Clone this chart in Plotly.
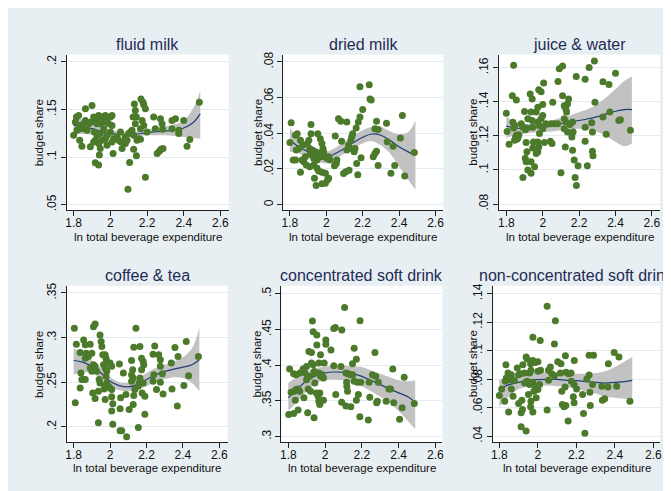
import plotly.graph_objects as go

# ---------------- data ----------------
x_ticks = [1.8, 2.0, 2.2, 2.4, 2.6]
x_tick_text = ["1.8", "2", "2.2", "2.4", "2.6"]

fit_x = [1.80, 1.85, 1.90, 1.95, 2.00, 2.05, 2.10, 2.15, 2.20, 2.25, 2.30, 2.35, 2.40, 2.45, 2.49]

# fluid milk
fluid_milk_pts = [
    (1.800, .1229), (1.815, .1420), (1.827, .1437), (1.809, .1368), (1.836, .1333), (1.855, .1351), (1.864, .1507),
    (1.900, .1542), (1.833, .1177), (1.845, .1115), (1.818, .1281), (1.873, .1281), (1.882, .1351), (1.895, .1368),
    (1.909, .1420), (1.913, .1264), (1.927, .1403), (1.936, .1437), (1.945, .1351), (1.955, .1420), (1.973, .1437),
    (1.982, .1403), (2.000, .1420), (2.009, .1437), (1.991, .1351), (2.009, .1333), (1.964, .1299), (1.945, .1247),
    (1.927, .1229), (1.918, .1177), (1.909, .1160), (1.891, .1108), (1.936, .1142), (1.955, .1177), (1.973, .1194),
    (1.982, .1125), (1.945, .1090), (1.940, .1021), (1.918, .0941), (1.936, .0917), (2.015, .1038), (2.018, .1194),
    (2.009, .1160), (1.982, .1229), (2.000, .1264), (2.036, .1212), (2.055, .1264), (2.064, .1090), (2.058, .1160),
    (2.045, .1177), (2.082, .1212), (2.091, .1177), (2.082, .1142), (2.100, .1247), (2.109, .1264), (2.118, .1281),
    (2.127, .1229), (2.127, .1083), (2.142, .1014), (2.105, .0944), (2.096, .0663), (2.136, .1351), (2.142, .1420),
    (2.167, .1611), (2.178, .1576), (2.182, .1549), (2.131, .1559), (2.136, .1490), (2.124, .1420), (2.173, .1385),
    (2.191, .1507), (2.182, .1333), (2.164, .1299), (2.155, .1194), (2.145, .1177), (2.164, .1187), (2.191, .0788),
    (2.200, .1264), (2.236, .1420), (2.245, .1299), (2.273, .1403), (2.282, .1351), (2.285, .1292), (2.336, .1299),
    (2.373, .1247), (2.373, .1281), (2.336, .1385), (2.355, .1403), (2.400, .1385), (2.255, .1038), (2.267, .1062),
    (2.276, .1083), (2.287, .1090), (2.418, .1115), (2.433, .1184), (2.485, .1576), (1.927, .1351), (1.964, .1368),
    (1.845, .1299), (1.864, .1385),
]
fluid_milk_fit = [.1333, .1319, .1299, .1271, .1250, .1240, .1236, .1243, .1257, .1267, .1274, .1285, .1306, .1361, .1455]
fluid_milk_lo = [.1247, .1243, .1236, .1226, .1215, .1212, .1212, .1219, .1229, .1229, .1229, .1222, .1212, .1201, .1194]
fluid_milk_hi = [.1420, .1392, .1358, .1316, .1285, .1271, .1264, .1271, .1288, .1306, .1323, .1344, .1385, .1507, .1698]
fluid_milk_yticks = [0.05, 0.10, 0.15, 0.20]
fluid_milk_ylabels = [".05", ".1", ".15", ".2"]

# dried milk
dried_milk_pts = [
    (1.800, .0348), (1.807, .0459), (1.831, .0389), (1.835, .0306), (1.849, .0315), (1.840, .0398), (1.858, .0361),
    (1.818, .0250), (1.831, .0250), (1.867, .0250), (1.858, .0181), (1.876, .0241), (1.885, .0269), (1.895, .0343),
    (1.904, .0361), (1.916, .0398), (1.916, .0450), (1.909, .0315), (1.913, .0287), (1.922, .0278), (1.931, .0259),
    (1.940, .0296), (1.949, .0250), (1.953, .0398), (1.967, .0369), (1.976, .0343), (1.982, .0315), (1.985, .0296),
    (1.964, .0278), (1.976, .0269), (1.995, .0269), (2.004, .0259), (2.013, .0269), (1.931, .0222), (1.909, .0213),
    (1.949, .0204), (1.958, .0189), (1.976, .0181), (1.995, .0176), (1.935, .0148), (1.944, .0107), (1.976, .0117),
    (1.995, .0120), (2.007, .0139), (2.013, .0148), (2.049, .0385), (2.055, .0231), (2.045, .0218), (2.058, .0250),
    (2.067, .0481), (2.080, .0468), (2.113, .0463), (2.084, .0356), (2.095, .0174), (2.107, .0185), (2.125, .0193),
    (2.113, .0306), (2.122, .0333), (2.131, .0315), (2.135, .0361), (2.140, .0380), (2.145, .0398), (2.153, .0296),
    (2.158, .0315), (2.164, .0430), (2.176, .0463), (2.167, .0231), (2.173, .0167), (2.185, .0491), (2.200, .0533),
    (2.191, .0263), (2.185, .0661), (2.236, .0672), (2.240, .0593), (2.247, .0587), (2.267, .0426), (2.276, .0467),
    (2.285, .0422), (2.258, .0269), (2.267, .0287), (2.276, .0300), (2.285, .0219), (2.331, .0457), (2.335, .0352),
    (2.367, .0328), (2.376, .0219), (2.355, .0176), (2.418, .0500), (2.407, .0374), (2.431, .0161), (2.484, .0293),
    (1.870, .0335), (1.925, .0305), (1.960, .0290), (2.020, .0250), (1.890, .0222),
]
dried_milk_fit = [.0361, .0324, .0296, .0274, .0263, .0287, .0315, .0348, .0378, .0396, .0389, .0361, .0324, .0296, .0278]
dried_milk_lo = [.0296, .0287, .0263, .0244, .0231, .0256, .0287, .0315, .0343, .0356, .0333, .0287, .0213, .0139, .0083]
dried_milk_hi = [.0430, .0367, .0330, .0306, .0296, .0319, .0352, .0385, .0417, .0435, .0435, .0411, .0393, .0407, .0472]
dried_milk_yticks = [0.0, 0.02, 0.04, 0.06, 0.08]
dried_milk_ylabels = ["0", ".02", ".04", ".06", ".08"]

# juice & water
juice_water_pts = [
    (1.840, .1614), (1.800, .1333), (1.804, .1226), (1.815, .1151), (1.833, .1435), (1.855, .1410), (1.836, .1280),
    (1.845, .1261), (1.840, .1246), (1.851, .1193), (1.858, .1180), (1.864, .1188), (1.845, .1174), (1.855, .1203),
    (1.869, .1207), (1.882, .1271), (1.891, .1251), (1.900, .1343), (1.904, .1236), (1.913, .1246), (1.918, .1300),
    (1.909, .1161), (1.913, .1106), (1.904, .1068), (1.909, .1048), (1.918, .1000), (1.936, .1048), (1.936, .0980),
    (1.891, .0955), (1.931, .1445), (1.942, .1416), (1.936, .1339), (1.942, .1290), (1.945, .1251), (1.949, .1164),
    (1.945, .1129), (1.955, .1019), (1.964, .1339), (1.973, .1368), (1.978, .1470), (1.991, .1459), (2.005, .1509),
    (2.000, .1383), (1.973, .1281), (1.982, .1261), (1.991, .1300), (2.000, .1319), (1.973, .1164), (1.978, .1135),
    (1.973, .1106), (1.964, .1097), (1.982, .1213), (2.009, .1161), (2.000, .1242), (2.018, .1271), (2.042, .1168),
    (2.051, .1155), (2.055, .1397), (2.045, .1271), (2.064, .1271), (2.082, .1271), (2.084, .1519), (2.091, .1594),
    (2.109, .1610), (2.100, .0984), (2.109, .1435), (2.118, .1377), (2.127, .1358), (2.136, .1387), (2.142, .1416),
    (2.131, .1339), (2.118, .1300), (2.127, .1281), (2.118, .1242), (2.136, .1222), (2.124, .1135), (2.149, .1267),
    (2.164, .1281), (2.167, .1222), (2.160, .1193), (2.164, .1116), (2.173, .1058), (2.178, .0955), (2.185, .0909),
    (2.194, .1025), (2.184, .1548), (2.233, .1532), (2.255, .1600), (2.284, .1639), (2.233, .1251), (2.233, .1168),
    (2.245, .1025), (2.269, .1277), (2.273, .1222), (2.273, .1110), (2.276, .1083), (2.287, .1397), (2.331, .1517),
    (2.364, .1501), (2.400, .1567), (2.331, .1310), (2.349, .1209), (2.369, .1339), (2.418, .1290), (2.427, .1294),
    (2.482, .1232),
]
juice_water_fit = [.1257, .1246, .1242, .1246, .1250, .1257, .1271, .1281, .1290, .1300, .1313, .1329, .1344, .1354, .1354]
juice_water_lo = [.1188, .1203, .1213, .1219, .1222, .1226, .1232, .1238, .1242, .1236, .1222, .1199, .1164, .1139, .1155]
juice_water_hi = [.1310, .1284, .1271, .1271, .1277, .1290, .1306, .1319, .1339, .1358, .1387, .1426, .1474, .1523, .1548]
juice_water_yticks = [0.08, 0.10, 0.12, 0.14, 0.16]
juice_water_ylabels = [".08", ".1", ".12", ".14", ".16"]

# coffee & tea
coffee_tea_pts = [
    (1.804, .3104), (1.815, .2926), (1.809, .2270), (1.836, .2833), (1.855, .2974), (1.864, .2919), (1.840, .2604),
    (1.845, .2530), (1.836, .2437), (1.855, .2530), (1.864, .2530), (1.864, .2770), (1.873, .2807), (1.882, .2789),
    (1.869, .2826), (1.891, .2926), (1.900, .2826), (1.909, .3122), (1.918, .3152), (1.891, .2659), (1.900, .2622),
    (1.909, .2696), (1.918, .2678), (1.927, .2622), (1.905, .2381), (1.918, .2319), (1.936, .2400), (1.945, .3030),
    (1.951, .2956), (1.955, .2900), (1.940, .2530), (1.945, .2493), (1.936, .2048), (1.960, .2807), (1.973, .2807),
    (1.978, .2770), (1.982, .2733), (1.964, .2696), (1.973, .2659), (1.982, .2622), (1.978, .2567), (1.973, .2456),
    (1.991, .2456), (2.000, .2437), (1.967, .2426), (2.000, .2715), (2.009, .2678), (2.009, .2419), (1.982, .2493),
    (1.973, .2307), (2.009, .2337), (2.015, .2259), (2.009, .2178), (2.015, .2030), (2.051, .2704), (2.073, .2604),
    (2.058, .2326), (2.055, .2204), (2.055, .1956), (2.064, .1956), (2.091, .1889), (2.087, .2363), (2.105, .2196),
    (2.118, .2744), (2.124, .2641), (2.118, .2585), (2.127, .2548), (2.118, .2511), (2.130, .2893), (2.142, .3104),
    (2.130, .2352), (2.136, .2419), (2.127, .2252), (2.155, .1993), (2.164, .2900), (2.173, .2770), (2.182, .2733),
    (2.185, .2696), (2.173, .2641), (2.164, .2548), (2.160, .2493), (2.155, .2456), (2.182, .2493), (2.176, .2381),
    (2.191, .2344), (2.191, .2141), (2.236, .2815), (2.245, .2907), (2.240, .2585), (2.236, .2511), (2.255, .2419),
    (2.267, .2807), (2.276, .2752), (2.276, .2678), (2.287, .2596), (2.276, .2500), (2.291, .2370), (2.336, .2715),
    (2.356, .2889), (2.373, .2789), (2.340, .2426), (2.369, .2233), (2.405, .2463), (2.418, .2956), (2.431, .2574),
    (2.485, .2789),
]
coffee_tea_fit = [.2744, .2726, .2678, .2604, .2511, .2463, .2448, .2474, .2530, .2585, .2622, .2648, .2670, .2696, .2752]
coffee_tea_lo = [.2585, .2611, .2604, .2537, .2456, .2411, .2400, .2419, .2456, .2511, .2537, .2556, .2548, .2493, .2400]
coffee_tea_hi = [.2881, .2826, .2744, .2659, .2559, .2500, .2493, .2530, .2604, .2659, .2696, .2733, .2781, .2881, .3111]
coffee_tea_yticks = [0.20, 0.25, 0.30, 0.35]
coffee_tea_ylabels = [".2", ".25", ".3", ".35"]

# concentrated soft drink
conc_soft_pts = [
    (1.802, .3310), (1.829, .3324), (1.853, .3370), (1.807, .3944), (1.829, .3880), (1.842, .3866), (1.863, .3889),
    (1.815, .3620), (1.833, .3634), (1.842, .3657), (1.853, .3667), (1.862, .3634), (1.838, .3509), (1.880, .3944),
    (1.889, .3898), (1.899, .3981), (1.885, .3542), (1.899, .3796), (1.905, .3843), (1.917, .3843), (1.908, .3667),
    (1.921, .3634), (1.905, .3333), (1.912, .4190), (1.926, .4176), (1.931, .4616), (1.935, .4468), (1.940, .3912),
    (1.946, .3889), (1.935, .4005), (1.926, .4028), (1.955, .4421), (1.955, .4282), (1.944, .3750), (1.953, .3611),
    (1.962, .3565), (1.940, .3264), (1.966, .4028), (1.975, .4144), (1.966, .3889), (1.975, .3843), (1.984, .3866),
    (1.971, .3611), (1.966, .3495), (1.971, .3449), (1.991, .3509), (1.995, .4028), (2.004, .4352), (2.004, .4292),
    (1.991, .3820), (2.032, .4213), (2.047, .4514), (2.056, .4528), (2.047, .3991), (2.058, .3588), (2.086, .3981),
    (2.091, .4491), (2.106, .4806), (2.090, .3481), (2.113, .3889), (2.118, .3704), (2.122, .3634), (2.117, .3759),
    (2.113, .3426), (2.126, .3879), (2.138, .3866), (2.140, .3417), (2.150, .3866), (2.158, .4236), (2.170, .4083),
    (2.149, .4019), (2.158, .3773), (2.170, .3509), (2.181, .3588), (2.176, .3759), (2.194, .3759), (2.189, .3278),
    (2.190, .4620), (2.235, .3231), (2.239, .3759), (2.243, .3551), (2.257, .3866), (2.271, .4176), (2.275, .3843),
    (2.289, .3759), (2.280, .3472), (2.284, .3495), (2.332, .3495), (2.347, .3667), (2.356, .3667), (2.368, .3944),
    (2.373, .3472), (2.405, .3241), (2.419, .3403), (2.430, .3829), (2.485, .3463),
]
conc_soft_fit = [.3542, .3667, .3782, .3852, .3889, .3903, .3898, .3880, .3843, .3787, .3727, .3667, .3611, .3556, .3481]
conc_soft_lo = [.3356, .3495, .3634, .3741, .3787, .3796, .3787, .3759, .3704, .3634, .3556, .3472, .3356, .3218, .3102]
conc_soft_hi = [.3750, .3843, .3912, .3958, .3981, .3995, .3991, .3981, .3972, .3926, .3880, .3833, .3787, .3773, .3787]
conc_soft_yticks = [0.30, 0.35, 0.40, 0.45, 0.50]
conc_soft_ylabels = [".3", ".35", ".4", ".45", ".5"]

# non-concentrated soft drink
nonconc_soft_pts = [
    (2.048, .1312), (2.091, .1210), (1.974, .1094), (2.012, .1071), (2.086, .1047), (2.396, .0987), (2.421, .0955),
    (2.366, .0908), (2.266, .0968), (2.289, .0968), (2.143, .0964), (2.189, .0931), (1.939, .0955), (1.944, .0941),
    (1.974, .0931), (1.986, .0917), (2.000, .0922), (1.834, .0901), (1.893, .0878), (1.922, .0901), (1.962, .0908),
    (2.120, .0908), (2.103, .0922), (2.065, .0885), (2.055, .0862), (2.072, .0839), (2.014, .0862), (2.000, .0855),
    (1.964, .0862), (1.957, .0843), (1.931, .0843), (1.910, .0839), (1.900, .0832), (1.862, .0832), (1.845, .0843),
    (1.836, .0808), (1.853, .0797), (1.878, .0790), (1.831, .0785), (1.812, .0732), (1.800, .0685), (1.828, .0646),
    (1.848, .0569), (1.862, .0732), (1.871, .0681), (1.900, .0630), (1.917, .0653), (1.920, .0588), (1.913, .0565),
    (1.913, .0467), (1.939, .0437), (1.931, .0774), (1.944, .0785), (1.957, .0762), (1.974, .0778), (1.986, .0750),
    (1.979, .0716), (2.000, .0727), (2.009, .0762), (1.951, .0692), (1.964, .0646), (1.962, .0607), (1.974, .0569),
    (1.991, .0669), (2.048, .0583), (2.055, .0792), (2.086, .0825), (2.117, .0843), (2.146, .0848), (2.159, .0839),
    (2.172, .0843), (2.124, .0716), (2.141, .0746), (2.174, .0785), (2.188, .0762), (2.201, .0732), (2.184, .0676),
    (2.127, .0622), (2.136, .0607), (2.145, .0616), (2.157, .0507), (2.188, .0634), (2.232, .0692), (2.237, .0560),
    (2.244, .0421), (2.254, .0801), (2.266, .0830), (2.284, .0762), (2.270, .0708), (2.272, .0616), (2.332, .0750),
    (2.335, .0653), (2.347, .0662), (2.364, .0746), (2.409, .0750), (2.478, .0646),
]
nonconc_soft_fit = [.0732, .0762, .0778, .0792, .0797, .0799, .0799, .0792, .0790, .0783, .0778, .0773, .0778, .0783, .0792]
nonconc_soft_lo = [.0606, .0681, .0732, .0746, .0755, .0755, .0750, .0746, .0732, .0716, .0699, .0676, .0669, .0662, .0653]
nonconc_soft_hi = [.0797, .0820, .0832, .0843, .0848, .0848, .0848, .0843, .0839, .0839, .0843, .0855, .0885, .0924, .0955]
nonconc_soft_yticks = [0.04, 0.06, 0.08, 0.10, 0.12, 0.14]
nonconc_soft_ylabels = [".04", ".06", ".08", ".1", ".12", ".14"]

titles = ["fluid milk", "dried milk", "juice & water",
          "coffee & tea", "concentrated soft drink", "non-concentrated soft drink"]
x_title = "ln total beverage expenditure"
y_title = "budget share"

# ---------------- layout geometry (screen pixels) ----------------
W, H = 671, 491
OFF = 8  # the page body margin offsets the figure by 8px
BG = "#e8eff2"
FONT = "Liberation Sans, Arial, sans-serif"
MARK = "#4b7a2b"
LINE = "#1d3f73"
BAND = "#c2c2c2"
GRID = "#e3ecef"
TITLE_C = "#1e2b57"

panels = [
    dict(pts=fluid_milk_pts, fit=fluid_milk_fit, lo=fluid_milk_lo, hi=fluid_milk_hi,
         yt=fluid_milk_yticks, yl=fluid_milk_ylabels,
         xd=(65, 228), yd=(52, 209), xr=[1.7618, 2.645], yr=[0.0441, 0.2076], ytx=37),
    dict(pts=dried_milk_pts, fit=dried_milk_fit, lo=dried_milk_lo, hi=dried_milk_hi,
         yt=dried_milk_yticks, yl=dried_milk_ylabels,
         xd=(283, 444), yd=(52, 209), xr=[1.764, 2.6436], yr=[-0.0032, 0.0841], ytx=257),
    dict(pts=juice_water_pts, fit=juice_water_fit, lo=juice_water_lo, hi=juice_water_hi,
         yt=juice_water_yticks, yl=juice_water_ylabels,
         xd=(500, 662), yd=(52, 209), xr=[1.760, 2.645], yr=[0.0763, 0.1676], ytx=473),
    dict(pts=coffee_tea_pts, fit=coffee_tea_fit, lo=coffee_tea_lo, hi=coffee_tea_hi,
         yt=coffee_tea_yticks, yl=coffee_tea_ylabels,
         xd=(65, 227), yd=(285, 443), xr=[1.7618, 2.6456], yr=[0.1826, 0.3581], ytx=37),
    dict(pts=conc_soft_pts, fit=conc_soft_fit, lo=conc_soft_lo, hi=conc_soft_hi,
         yt=conc_soft_yticks, yl=conc_soft_ylabels,
         xd=(281, 443), yd=(285, 443), xr=[1.7622, 2.6378], yr=[0.2917, 0.5111], ytx=257),
    dict(pts=nonconc_soft_pts, fit=nonconc_soft_fit, lo=nonconc_soft_lo, hi=nonconc_soft_hi,
         yt=nonconc_soft_yticks, yl=nonconc_soft_ylabels,
         xd=(494, 662), yd=(285, 443), xr=[1.7675, 2.6346], yr=[0.0356, 0.1456], ytx=474),
]


def px(xp):
    return (xp - OFF) / W


def py(yp):
    return 1 - (yp - OFF) / H


fig = go.Figure()
layout = dict(
    width=W, height=H, margin=dict(l=0, r=0, t=0, b=0),
    paper_bgcolor=BG, plot_bgcolor="white", showlegend=False,
    font=dict(family=FONT, size=11, color="#111111"),
    annotations=[],
)

for i, p in enumerate(panels):
    n = "" if i == 0 else str(i + 1)
    xa, ya = "x" + n, "y" + n
    xs = [q[0] for q in p["pts"]]
    ys = [q[1] for q in p["pts"]]
    # CI band
    fig.add_trace(go.Scatter(x=fit_x, y=p["lo"], xaxis=xa, yaxis=ya, mode="lines",
                             line=dict(width=0, color=BAND, shape="spline"), hoverinfo="skip"))
    fig.add_trace(go.Scatter(x=fit_x, y=p["hi"], xaxis=xa, yaxis=ya, mode="lines", fill="tonexty",
                             fillcolor=BAND, line=dict(width=0, color=BAND, shape="spline"), hoverinfo="skip"))
    # fitted line
    fig.add_trace(go.Scatter(x=fit_x, y=p["fit"], xaxis=xa, yaxis=ya, mode="lines",
                             line=dict(width=1.2, color=LINE, shape="spline"), hoverinfo="skip"))
    # scatter
    fig.add_trace(go.Scatter(x=xs, y=ys, xaxis=xa, yaxis=ya, mode="markers",
                             marker=dict(size=7, color=MARK, line=dict(width=0)), hoverinfo="skip"))

    layout["xaxis" + n] = dict(
        domain=[px(p["xd"][0]), px(p["xd"][1])], range=p["xr"], anchor=ya,
        tickvals=x_ticks, ticktext=x_tick_text, ticks="outside", ticklen=5, tickwidth=1,
        tickcolor="#222", showline=True, linecolor="#222", linewidth=1, showgrid=False,
        zeroline=False, tickfont=dict(size=12, color="#111"), ticklabelstandoff=-4,
        fixedrange=True)
    layout["yaxis" + n] = dict(
        domain=[py(p["yd"][1]), py(p["yd"][0])], range=p["yr"], anchor=xa,
        tickvals=p["yt"], ticktext=p["yl"], tickangle=-90, ticks="outside", ticklen=5, tickwidth=1,
        tickcolor="#222", showline=True, linecolor="#222", linewidth=1, showgrid=True,
        gridcolor=GRID, gridwidth=1, zeroline=False, tickfont=dict(size=12, color="#111"),
        fixedrange=True)

    cx = (p["xd"][0] + p["xd"][1]) / 2
    cy = (p["yd"][0] + p["yd"][1]) / 2
    top_row = i < 3
    layout["annotations"].append(dict(
        text=titles[i], x=px(cx), y=py(42 if top_row else 275), xref="paper", yref="paper",
        xanchor="center", yanchor="middle", showarrow=False,
        font=dict(size=16, color=TITLE_C, family=FONT)))
    layout["annotations"].append(dict(
        text=x_title, x=px(cx), y=py(236 if top_row else 469), xref="paper", yref="paper",
        xanchor="center", yanchor="middle", showarrow=False,
        font=dict(size=11.5, color="#111", family=FONT)))
    layout["annotations"].append(dict(
        text=y_title, x=px(p["ytx"]), y=py(cy), xref="paper", yref="paper", textangle=-90,
        xanchor="center", yanchor="middle", showarrow=False,
        font=dict(size=11.5, color="#111", family=FONT)))

fig.update_layout(**layout)
fig.write_html("out.html")
